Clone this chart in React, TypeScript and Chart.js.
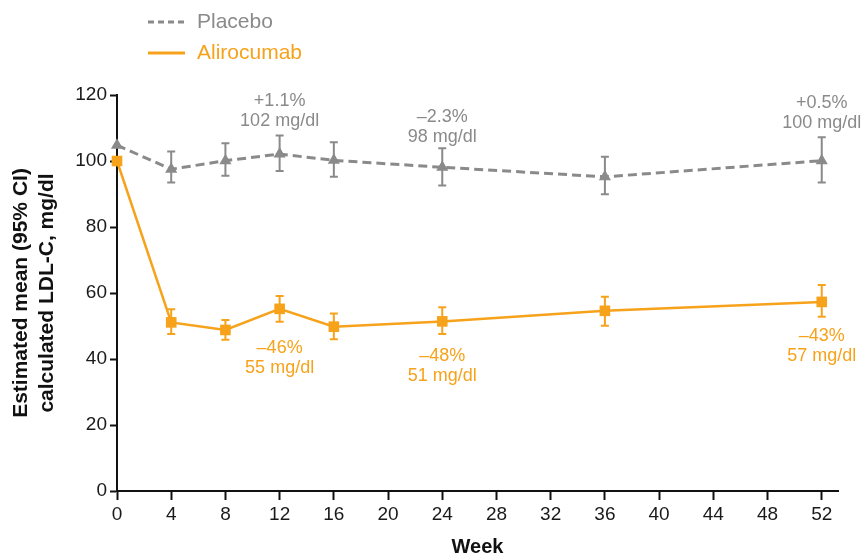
import React, { useEffect, useRef } from "react";
import { Chart, registerables } from "chart.js";

Chart.register(...registerables);

const weeks = [0, 4, 8, 12, 16, 24, 36, 52];
const placeboMean = [104.8, 97.5, 100.1, 102.1, 100.2, 98.1, 95.2, 100.1];
const placeboLow = [104.8, 93.5, 95.5, 97.0, 95.2, 92.6, 89.9, 93.5];
const placeboHigh = [104.8, 102.9, 105.4, 107.7, 105.7, 103.9, 101.3, 107.2];
const aliroMean = [100.0, 51.1, 48.8, 55.2, 49.8, 51.4, 54.6, 57.3];
const aliroLow = [100.0, 47.6, 45.8, 51.3, 46.0, 47.6, 50.1, 52.8];
const aliroHigh = [100.0, 55.1, 51.8, 59.1, 53.8, 55.7, 58.9, 62.4];
const xTicks = [0, 4, 8, 12, 16, 20, 24, 28, 32, 36, 40, 44, 48, 52];
const yTicks = [0, 20, 40, 60, 80, 100, 120];

const placeboNotes = [
  { week: 12, y: 118.3, lines: ["+1.1%", "102 mg/dl"] },
  { week: 24, y: 113.4, lines: ["\u20132.3%", "98 mg/dl"] },
  { week: 52, y: 117.5, lines: ["+0.5%", "100 mg/dl"] },
];
const aliroNotes = [
  { week: 12, y: 43.2, lines: ["\u201346%", "55 mg/dl"] },
  { week: 24, y: 40.9, lines: ["\u201348%", "51 mg/dl"] },
  { week: 52, y: 47.0, lines: ["\u201343%", "57 mg/dl"] },
];

const GRAY = "#8a8a8a";
const ORANGE = "#f7a21b";
const FONT = "'Liberation Sans', Arial, Helvetica, sans-serif";

export default function App() {
  const ref = useRef<HTMLCanvasElement | null>(null);

  useEffect(() => {
    const canvas = ref.current;
    if (!canvas) return;

    const overlay = {
      id: "overlay",
      beforeDatasetsDraw(chart: any) {
        const { ctx } = chart;
        const xs = chart.scales.x;
        const ys = chart.scales.y;
        const sets = [
          { low: placeboLow, high: placeboHigh, color: GRAY },
          { low: aliroLow, high: aliroHigh, color: ORANGE },
        ];
        ctx.save();
        ctx.lineWidth = 2;
        for (const s of sets) {
          ctx.strokeStyle = s.color;
          weeks.forEach((w, i) => {
            if (s.high[i] === s.low[i]) return;
            const px = xs.getPixelForValue(w);
            const top = ys.getPixelForValue(s.high[i]);
            const bot = ys.getPixelForValue(s.low[i]);
            ctx.beginPath();
            ctx.moveTo(px, top);
            ctx.lineTo(px, bot);
            ctx.moveTo(px - 4, top);
            ctx.lineTo(px + 4, top);
            ctx.moveTo(px - 4, bot);
            ctx.lineTo(px + 4, bot);
            ctx.stroke();
          });
        }
        ctx.restore();
      },
      afterDraw(chart: any) {
        const { ctx } = chart;
        const xs = chart.scales.x;
        const ys = chart.scales.y;
        ctx.save();
        ctx.font = `18px ${FONT}`;
        ctx.textAlign = "center";
        ctx.textBaseline = "middle";
        const drawNotes = (notes: any[], color: string) => {
          ctx.fillStyle = color;
          for (const n of notes) {
            const px = xs.getPixelForValue(n.week);
            const py = ys.getPixelForValue(n.y);
            n.lines.forEach((t: string, i: number) => ctx.fillText(t, px, py + i * 20));
          }
        };
        drawNotes(placeboNotes, GRAY);
        drawNotes(aliroNotes, ORANGE);

        // legend
        ctx.font = `21px ${FONT}`;
        ctx.textAlign = "left";
        const items = [
          { label: "Placebo", color: GRAY, dash: [6, 4], y: 22 },
          { label: "Alirocumab", color: ORANGE, dash: [], y: 53 },
        ];
        for (const it of items) {
          ctx.strokeStyle = it.color;
          ctx.lineWidth = 3;
          ctx.setLineDash(it.dash);
          ctx.beginPath();
          ctx.moveTo(148, it.y);
          ctx.lineTo(185, it.y);
          ctx.stroke();
          ctx.setLineDash([]);
          ctx.fillStyle = it.color;
          ctx.fillText(it.label, 197, it.y);
        }
        ctx.restore();
      },
    };

    const chart = new Chart(canvas, {
      type: "line",
      data: {
        datasets: [
          {
            label: "Placebo",
            data: weeks.map((w, i) => ({ x: w, y: placeboMean[i] })),
            borderColor: GRAY,
            backgroundColor: GRAY,
            borderWidth: 3,
            borderDash: [9, 5],
            pointStyle: "triangle",
            pointRadius: 7,
            pointBorderWidth: 0,
            tension: 0,
            clip: false,
          },
          {
            label: "Alirocumab",
            data: weeks.map((w, i) => ({ x: w, y: aliroMean[i] })),
            borderColor: ORANGE,
            backgroundColor: ORANGE,
            borderWidth: 2.5,
            pointStyle: "rect",
            pointRadius: 7.5,
            pointBorderWidth: 0,
            tension: 0,
            clip: false,
          },
        ],
      },
      options: {
        animation: false,
        responsive: false,
        maintainAspectRatio: false,
        layout: { padding: { top: 95, right: 23, left: 0, bottom: 0 } },
        plugins: {
          legend: { display: false },
          tooltip: { enabled: false },
        },
        scales: {
          x: {
            type: "linear",
            min: 0,
            max: 53.2,
            afterBuildTicks: (s: any) => {
              s.ticks = xTicks.map((v) => ({ value: v }));
            },
            afterFit: (s: any) => {
              s.height = 66;
            },
            grid: {
              drawOnChartArea: false,
              drawTicks: true,
              tickLength: 9,
              tickWidth: 2,
              tickColor: "#111",
            },
            border: { display: true, color: "#111", width: 2 },
            ticks: {
              color: "#1a1a1a",
              font: { family: FONT, size: 19 },
              padding: 3,
              maxRotation: 0,
              autoSkip: false,
            },
            title: {
              display: true,
              text: "Week",
              color: "#111",
              font: { family: FONT, size: 20, weight: "bold", lineHeight: 1.0 },
              padding: { top: 0, bottom: 0 },
            },
          },
          y: {
            min: 0,
            max: 120,
            afterBuildTicks: (s: any) => {
              s.ticks = yTicks.map((v) => ({ value: v }));
            },
            afterFit: (s: any) => {
              s.width = 117;
            },
            grid: {
              drawOnChartArea: false,
              drawTicks: true,
              tickLength: 7,
              tickWidth: 2,
              tickColor: "#111",
            },
            border: { display: true, color: "#111", width: 2 },
            ticks: {
              color: "#1a1a1a",
              font: { family: FONT, size: 19 },
              padding: 3,
            },
            title: {
              display: true,
              text: ["Estimated mean (95% CI)", "calculated LDL-C, mg/dl"],
              color: "#111",
              font: { family: FONT, size: 21, weight: "bold", lineHeight: 1.2 },
              padding: { top: 9, bottom: 0 },
            },
          },
        },
      },
      plugins: [overlay],
    });

    return () => chart.destroy();
  }, []);

  return (
    <div style={{ position: "fixed", left: 0, top: 0, width: 861, height: 557, background: "#fff" }}>
      <canvas ref={ref} width={861} height={557} style={{ display: "block", width: 861, height: 557 }} />
    </div>
  );
}
